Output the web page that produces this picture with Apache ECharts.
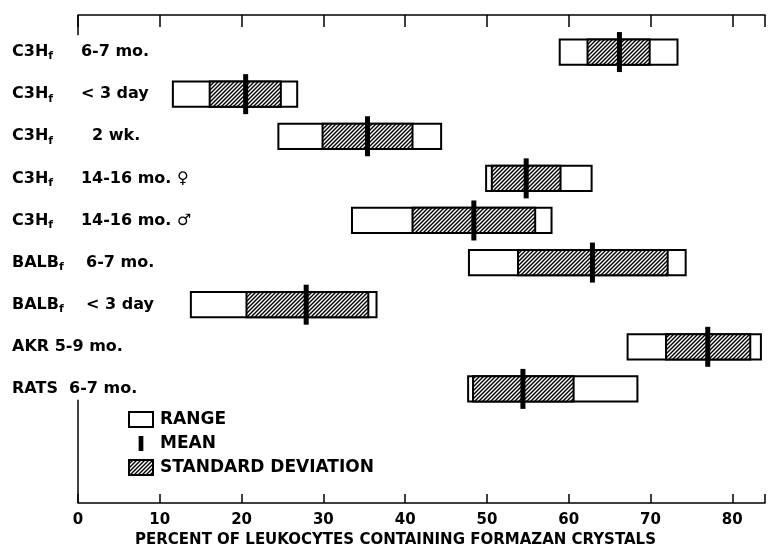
<!DOCTYPE html>
<html>
<head>
<meta charset="utf-8">
<script src="https://cdn.jsdelivr.net/npm/echarts@6/dist/echarts.min.js"></script>
<style>
  html, body { margin: 0; padding: 0; background: #fff; }
  #chart { width: 770px; height: 546px; }
</style>
</head>
<body>
<div id="chart"></div>
<script>
// groups, top to bottom
const groups = [
  'C3H{f|f}     6-7 mo.',
  'C3H{f|f}     < 3 day',
  'C3H{f|f}       2 wk.',
  'C3H{f|f}     14-16 mo. ♀',
  'C3H{f|f}     14-16 mo. ♂',
  'BALB{f|f}    6-7 mo.',
  'BALB{f|f}    < 3 day',
  'AKR 5-9 mo.',
  'RATS  6-7 mo.'
];
// percent of leukocytes containing formazan crystals
const rangeLow  = [58.9, 11.6, 24.5, 49.9, 33.5, 47.8, 13.8, 67.2, 47.7];
const rangeHigh = [73.3, 26.8, 44.4, 62.8, 57.9, 74.3, 36.5, 83.5, 68.4];
const sdLow     = [62.3, 16.1, 29.9, 50.6, 40.9, 53.8, 20.6, 71.9, 48.3];
const sdHigh    = [69.9, 24.8, 40.9, 59.0, 55.9, 72.1, 35.5, 82.2, 60.6];
const means     = [66.2, 20.5, 35.4, 54.8, 48.4, 62.9, 27.9, 77.0, 54.4];
const xTicks    = [0, 10, 20, 30, 40, 50, 60, 70, 80];

const FONT = 'DejaVu Sans';
const WEIGHT = 'bold';
const Y_MIN = 0.12, Y_MAX = 11.71;

// hatch pattern for the SD boxes
const hatch = document.createElement('canvas');
hatch.width = 4; hatch.height = 4;
const hc = hatch.getContext('2d');
hc.fillStyle = '#fff';
hc.fillRect(0, 0, 4, 4);
hc.strokeStyle = '#000';
hc.lineWidth = 1.4;
hc.beginPath();
hc.moveTo(0, 4); hc.lineTo(4, 0);
hc.moveTo(-1, 1); hc.lineTo(1, -1);
hc.moveTo(3, 5); hc.lineTo(5, 3);
hc.stroke();
const hatchFill = { image: hatch, repeat: 'repeat' };

const rangeData = groups.map((g, i) => [rangeLow[i], rangeHigh[i], i + 1]);
const sdData = groups.map((g, i) => [sdLow[i], sdHigh[i], i + 1]);
const meanData = groups.map((g, i) => [means[i], means[i], i + 1]);

function boxRenderer(heightRatio, fill, stroke, lineWidth, minWidth) {
  return function (params, api) {
    const row = api.value(2);
    const p0 = api.coord([api.value(0), row]);
    const p1 = api.coord([api.value(1), row]);
    const h = api.size([0, 1])[1] * heightRatio;
    let x = p0[0], w = p1[0] - p0[0];
    if (w < minWidth) { x -= minWidth / 2; w = minWidth; }
    return {
      type: 'rect',
      shape: { x: x, y: p0[1] - h / 2, width: w, height: h },
      style: { fill: fill, stroke: stroke, lineWidth: lineWidth }
    };
  };
}

const chart = echarts.init(document.getElementById('chart'), null, { renderer: 'canvas' });

chart.setOption({
  animation: false,
  backgroundColor: '#fff',
  textStyle: { fontFamily: FONT, color: '#000' },
  grid: { left: 78, right: 5, top: 15, bottom: 43, outerBoundsMode: 'none' },
  legend: {
    orient: 'vertical',
    left: 128,
    top: 411,
    padding: 0,
    itemWidth: 24,
    itemHeight: 15,
    itemGap: 7,
    selectedMode: false,
    textStyle: { fontFamily: FONT, fontWeight: WEIGHT, fontSize: 17, color: '#000', padding: [0, 0, 0, 2] },
    data: [
      { name: 'RANGE', icon: 'rect', itemStyle: { color: '#fff', borderColor: '#000', borderWidth: 2 } },
      { name: 'MEAN', icon: 'path://M0,0 M24,16 M9.5,0 L14.5,0 L14.5,16 L9.5,16 Z', itemStyle: { color: '#000', borderWidth: 0 } },
      { name: 'STANDARD DEVIATION', icon: 'rect', itemStyle: { color: hatchFill, borderColor: '#000', borderWidth: 2 } }
    ]
  },
  xAxis: [
    {
      type: 'value',
      position: 'bottom',
      min: 0,
      max: 84,
      interval: 10,
      splitLine: { show: false },
      axisLine: { lineStyle: { color: '#000', width: 1.5 } },
      axisTick: { inside: true, length: 9, lineStyle: { color: '#000', width: 1.5 } },
      axisLabel: {
        fontFamily: FONT, fontWeight: WEIGHT, fontSize: 15, color: '#000', margin: 10,
        formatter: v => (xTicks.indexOf(v) >= 0 ? String(v) : '')
      },
      name: 'PERCENT OF LEUKOCYTES CONTAINING FORMAZAN CRYSTALS',
      nameLocation: 'middle',
      nameGap: 29,
      nameTextStyle: { fontFamily: FONT, fontWeight: WEIGHT, fontSize: 15, color: '#000', padding: [0, 52, 0, 0] }
    },
    {
      type: 'value',
      position: 'top',
      min: 0,
      max: 84,
      interval: 10,
      splitLine: { show: false },
      axisLine: { lineStyle: { color: '#000', width: 1.5 } },
      axisTick: { inside: true, length: 12, lineStyle: { color: '#000', width: 1.5 } },
      axisLabel: { show: false }
    }
  ],
  yAxis: {
    type: 'value',
    inverse: true,
    min: Y_MIN,
    max: Y_MAX,
    minInterval: 1,
    maxInterval: 1,
    splitLine: { show: false },
    axisLine: { show: false },
    axisTick: { show: false },
    axisLabel: {
      align: 'left',
      margin: 66,
      fontFamily: FONT,
      fontWeight: WEIGHT,
      fontSize: 16,
      color: '#000',
      formatter: v => {
        const r = Math.round(v);
        return (Math.abs(v - r) < 1e-6 && r >= 1 && r <= groups.length) ? groups[r - 1] : '';
      },
      rich: {
        f: { fontSize: 11, fontFamily: FONT, fontWeight: WEIGHT, color: '#000', padding: [9, 0, 0, 0] }
      }
    }
  },
  series: [
    {
      name: 'RANGE',
      type: 'custom',
      itemStyle: { color: '#fff', borderColor: '#000', borderWidth: 2 },
      renderItem: boxRenderer(0.6, '#fff', '#000', 2, 0),
      encode: { x: [0, 1], y: 2 },
      data: rangeData,
      z: 2,
      markLine: {
        silent: true,
        symbol: 'none',
        label: { show: false },
        lineStyle: { color: '#000', width: 1.5, type: 'solid' },
        data: [
          [{ coord: [0, 9.26] }, { coord: [0, Y_MAX] }],
          [{ coord: [0, Y_MIN] }, { coord: [0, 0.6] }]
        ]
      }
    },
    {
      name: 'STANDARD DEVIATION',
      type: 'custom',
      itemStyle: { color: hatchFill, borderColor: '#000', borderWidth: 2 },
      renderItem: boxRenderer(0.6, hatchFill, '#000', 2, 0),
      encode: { x: [0, 1], y: 2 },
      data: sdData,
      z: 3
    },
    {
      name: 'MEAN',
      type: 'custom',
      itemStyle: { color: '#000' },
      renderItem: boxRenderer(0.95, '#000', null, 0, 5),
      encode: { x: [0, 1], y: 2 },
      data: meanData,
      z: 4
    }
  ]
});

window.onresize = function () {
  chart.resize();
};
</script>
</body>
</html>
